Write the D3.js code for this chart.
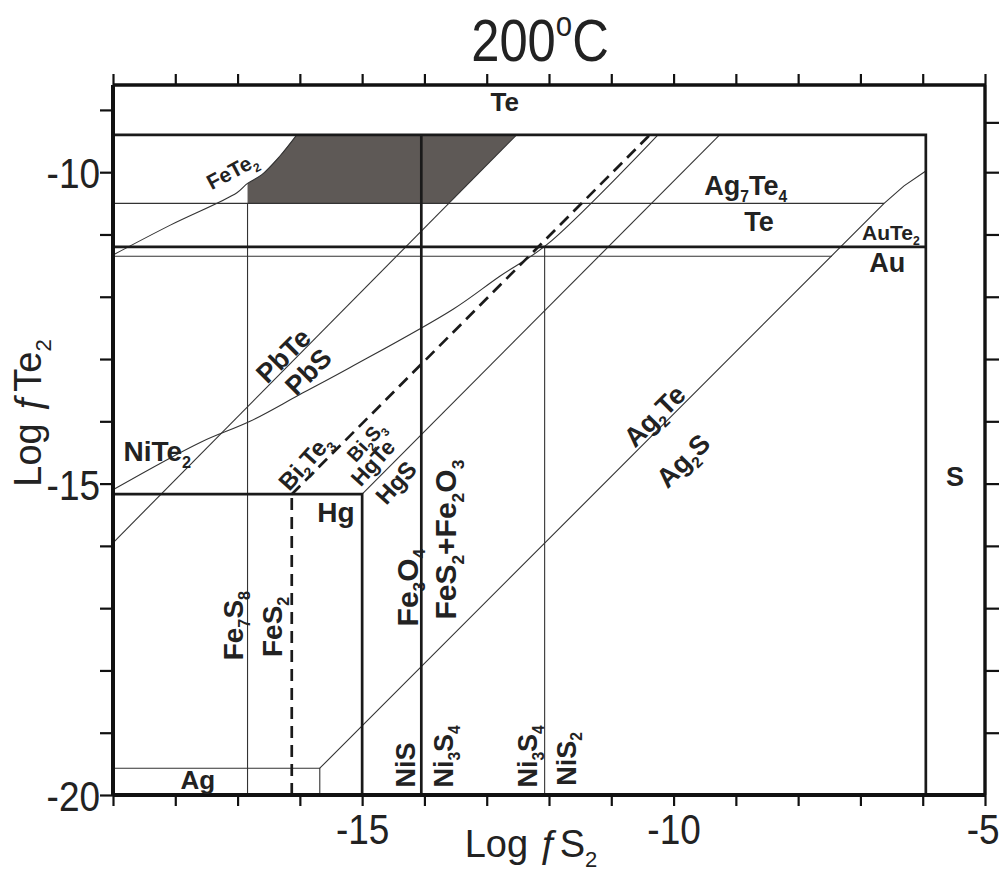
<!DOCTYPE html>
<html><head><meta charset="utf-8">
<script src="https://cdn.jsdelivr.net/npm/d3@7"></script>
<style>body{margin:0;background:#fff}svg{display:block}</style>
</head><body>
<svg id="c" width="1000" height="873"></svg>
<script>
// ---------- data (log fS2 , log fTe2) ----------
const xDomain = [-19, -5];
const yDomain = [-20, -8.6];
const xTicks = d3.range(-19, -4);          // every unit
const yTicks = d3.range(-20, -8);          // every unit
const rightTicks = [-19,-18,-17,-16,-15,-14,-13,-12,-11,-10,-9.2];
const xTickLabels = [-15, -10, -5];
const yTickLabels = [-20, -15, -10];

const teLimit = -9.4;      // Te field boundary
const rightLimit = -5.95;  // S field boundary
const auTeLine = -11.2;    // AuTe2 / Au
const ag7Te4Line = -10.5;  // Ag7Te4 / Te
const auThinLine = -11.35;
const hgLine = -15.17;     // Hg
const hgX = -15.0;
const fe3o4X = -14.05;     // Fe3O4 / FeS2+Fe2O3, NiS / Ni3S4
const fe7s8X = -16.84;     // Fe7S8 / FeS2
const biX = -16.13;        // Bi boundary (dashed)
const ni3s4X = -12.07;     // Ni3S4 / NiS2
const agTop = -19.57;
const agRight = -15.68;

const pbLine  = [[-19, -15.95], [-12.52, -9.4]];          // PbTe / PbS
const hgsLine = [[-15.0, -15.17], [-9.26, -9.4]];         // HgTe / HgS
const biLine  = [[-16.13, -15.17], [-10.38, -9.4]];       // Bi2Te3 / Bi2S3
const niTe2Curve = [[-19,-15.10],[-17.6,-14.34],[-16.8,-14.0],[-16.0,-13.57],[-15.2,-13.14],
                    [-13.54,-12.2],[-12.79,-11.67],[-12.03,-11.16],[-10.25,-9.4]];
const feTe2Curve = [[-19,-11.33],[-18.08,-10.85],[-17.01,-10.33],[-16.84,-10.18],
                    [-16.61,-10.04],[-16.32,-9.74],[-16.05,-9.4]];
const ag2sLine = [[-15.68,-19.57],[-6.62,-10.5],[-6.3,-10.22],[-5.95,-9.98]];
const ag7Te4End = -6.62;
const auThinEnd = -7.46;

const labels = [
  {t:"Te", x:-12.71, y:-8.87, a:0, s:26},
  {t:"FeTe_2", x:-17.09, y:-9.98, a:-28, s:21},
  {t:"Ag_7Te_4", x:-8.84, y:-10.21, a:0, s:27},
  {t:"Te", x:-8.63, y:-10.79, a:0, s:27},
  {t:"AuTe_2", x:-6.51, y:-10.96, a:0, s:21},
  {t:"Au", x:-6.57, y:-11.45, a:0, s:27},
  {t:"S", x:-5.48, y:-14.89, a:0, s:27},
  {t:"NiTe_2", x:-18.29, y:-14.47, a:0, s:28},
  {t:"PbTe", x:-16.27, y:-12.94, a:-45, s:27},
  {t:"PbS", x:-15.87, y:-13.2, a:-45, s:27},
  {t:"Bi_2Te_3", x:-15.92, y:-14.65, a:-48, s:24},
  {t:"Bi_2S_3", x:-14.94, y:-14.32, a:-48, s:20},
  {t:"HgTe", x:-14.83, y:-14.66, a:-48, s:22},
  {t:"HgS", x:-14.46, y:-14.98, a:-48, s:24},
  {t:"Hg", x:-15.42, y:-15.45, a:0, s:28},
  {t:"Ag_2Te", x:-10.31, y:-13.91, a:-45, s:27},
  {t:"Ag_2S", x:-9.85, y:-14.63, a:-45, s:27},
  {t:"Fe_7S_8", x:-17.07, y:-17.28, a:-90, s:28},
  {t:"FeS_2", x:-16.45, y:-17.30, a:-90, s:28},
  {t:"Fe_3O_4", x:-14.28, y:-16.67, a:-90, s:30},
  {t:"FeS_2+Fe_2O_3", x:-13.66, y:-15.90, a:-90, s:30},
  {t:"NiS", x:-14.31, y:-19.52, a:-90, s:27},
  {t:"Ni_3S_4", x:-13.70, y:-19.38, a:-90, s:27},
  {t:"Ni_3S_4", x:-12.35, y:-19.38, a:-90, s:27},
  {t:"NiS_2", x:-11.73, y:-19.42, a:-90, s:27},
  {t:"Ag", x:-17.64, y:-19.76, a:0, s:26}
];

// ---------- drawing ----------
const svg = d3.select("#c");
const x = d3.scaleLinear().domain(xDomain).range([113, 985]);
const y = d3.scaleLinear().domain(yDomain).range([795, 85]);
const line = d3.line().x(d => x(d[0])).y(d => y(d[1]));
const curve = d3.line().x(d => x(d[0])).y(d => y(d[1])).curve(d3.curveCatmullRom.alpha(0.5));

// gray field
function interpX(seg, yy){const [a,b]=seg;return a[0]+(yy-a[1])*(b[0]-a[0])/(b[1]-a[1]);}
const grayPoly = [[fe7s8X, ag7Te4Line]]
  .concat(feTe2Curve.filter(p => p[0] >= fe7s8X - 1e-9))
  .concat([[interpX(pbLine, teLimit), teLimit],[interpX(pbLine, ag7Te4Line), ag7Te4Line]]);
svg.append("path").attr("d", line(grayPoly)+"Z")
   .attr("fill", "#5e5956").attr("stroke","none");

const thin = [
  [[-19, ag7Te4Line],[ag7Te4End, ag7Te4Line]],
  [[-19, auThinLine],[auThinEnd, auThinLine]],
  [[fe7s8X, ag7Te4Line],[fe7s8X, -20]],
  [[ni3s4X, auTeLine],[ni3s4X, -20]],
  [[-19, agTop],[agRight, agTop],[agRight, -20]],
  pbLine, hgsLine, ag2sLine
];
const thinCurves = [niTe2Curve, feTe2Curve];
const thick = [
  [[-19, teLimit],[rightLimit, teLimit],[rightLimit, -20]],
  [[-19, auTeLine],[rightLimit, auTeLine]],
  [[-19, hgLine],[hgX, hgLine],[hgX, -20]],
  [[fe3o4X, teLimit],[fe3o4X, -20]]
];
const dashed = [[[biX, -20],[biX, hgLine]], biLine];

const gl = svg.append("g").attr("fill","none").attr("stroke-linejoin","miter");
gl.selectAll(".thin").data(thin).join("path").attr("d", line)
  .attr("stroke","#333").attr("stroke-width",1.1);
gl.selectAll(".thinc").data(thinCurves).join("path").attr("d", curve)
  .attr("stroke","#333").attr("stroke-width",1.1);
gl.selectAll(".thick").data(thick).join("path").attr("d", line)
  .attr("stroke","#1a1a1a").attr("stroke-width",2.7);
gl.selectAll(".dash").data(dashed).join("path").attr("d", line)
  .attr("stroke","#1a1a1a").attr("stroke-width",2.7).attr("stroke-dasharray","12,7");

// axes
const numFmt = v => (v < 0 ? "-" : "") + Math.abs(v);
const narrow = 0.86;
const axB = d3.axisBottom(x).tickValues(xTicks).tickSize(11).tickPadding(7)
  .tickFormat(v => xTickLabels.includes(v) ? numFmt(v) : "");
const axT = d3.axisTop(x).tickValues(xTicks).tickSize(11).tickFormat("");
const axL = d3.axisLeft(y).tickValues(yTicks).tickSize(13).tickPadding(1)
  .tickFormat(v => yTickLabels.includes(v) ? numFmt(v) : "");
const axR = d3.axisRight(y).tickValues(rightTicks).tickSize(14).tickFormat("");

function styleAxis(g){
  g.select(".domain").remove();
  g.selectAll(".tick line").attr("stroke","#111").attr("stroke-width",2.2);
  g.selectAll("text").attr("font-family","'Liberation Sans',Arial,sans-serif")
    .attr("font-size",43).attr("fill","#222");
}
const gB = svg.append("g").attr("transform","translate(0,795)").call(axB); styleAxis(gB);
const gT = svg.append("g").attr("transform","translate(0,85)").call(axT); styleAxis(gT);
const gL = svg.append("g").attr("transform","translate(113,0)").call(axL); styleAxis(gL);
const gR = svg.append("g").attr("transform","translate(985,0)").call(axR); styleAxis(gR);
gB.selectAll("text").attr("dy","0.72em").attr("transform",`scale(${narrow},1)`);
// last label (-5) sits at the right edge: keep it inside the page
gB.selectAll(".tick").filter(d => d === xDomain[1]).select("text")
  .attr("text-anchor","end").attr("x", (1000 - x(xDomain[1]) - 1) / narrow);
gL.selectAll("text").attr("dy","0.36em").attr("x", -13/narrow).attr("transform",`scale(${narrow},1)`);

// frame
svg.append("path").attr("d", line([[xDomain[0], yDomain[1]],[xDomain[1], yDomain[1]]])).attr("stroke","#111").attr("stroke-width",3.4);
svg.append("path").attr("d", line([[xDomain[0], yDomain[0]],[xDomain[1], yDomain[0]]])).attr("stroke","#111").attr("stroke-width",4);
svg.append("path").attr("d", line([[xDomain[0], yDomain[0]],[xDomain[0], yDomain[1]]])).attr("stroke","#111").attr("stroke-width",4);
svg.append("path").attr("d", line([[xDomain[1], yDomain[0]],[xDomain[1], yDomain[1]]])).attr("stroke","#111").attr("stroke-width",3.4);

// rich text helper (_ subscript, ^ superscript)
function rich(sel, str, size){
  const parts=[]; let i=0;
  while(i<str.length){
    if(str[i]==="_"||str[i]==="^"){parts.push({t:str[i+1],k:str[i]}); i+=2;}
    else{let j=i; while(j<str.length&&str[j]!=="_"&&str[j]!=="^") j++; parts.push({t:str.slice(i,j),k:""}); i=j;}
  }
  let shift=0;
  parts.forEach(p=>{
    const target = p.k==="_" ? size*0.25 : p.k==="^" ? -size*0.42 : 0;
    const ts = sel.append("tspan").text(p.t).attr("dy", target-shift);
    if(p.k) ts.attr("font-size", size*0.58);
    shift = target;
  });
}

// field labels
const gLab = svg.append("g").attr("font-family","'Liberation Sans',Arial,sans-serif")
  .attr("font-weight","bold").attr("fill","#222");
labels.forEach(l=>{
  const g = gLab.append("g").attr("transform",`translate(${x(l.x)},${y(l.y)}) rotate(${l.a})`);
  const t = g.append("text").attr("text-anchor","middle").attr("y", l.s*0.36).attr("font-size", l.s);
  rich(t, l.t, l.s);
});

// title and axis titles
const tt = svg.append("g").attr("transform",`translate(540,61) scale(${narrow},1)`)
  .append("text").attr("text-anchor","middle")
  .attr("font-family","'Liberation Sans',Arial,sans-serif").attr("font-size",59).attr("fill","#222");
rich(tt, "200^oC", 59);
const xt = svg.append("text").attr("x",531).attr("y",857).attr("text-anchor","middle")
  .attr("font-family","'Liberation Sans',Arial,sans-serif").attr("font-size",38).attr("fill","#222");
rich(xt, "Log ƒS_2", 38);
const yt = svg.append("text").attr("transform","translate(41,413) rotate(-90)").attr("text-anchor","middle")
  .attr("font-family","'Liberation Sans',Arial,sans-serif").attr("font-size",38).attr("fill","#222");
rich(yt, "Log ƒTe_2", 38);
</script>
</body></html>
